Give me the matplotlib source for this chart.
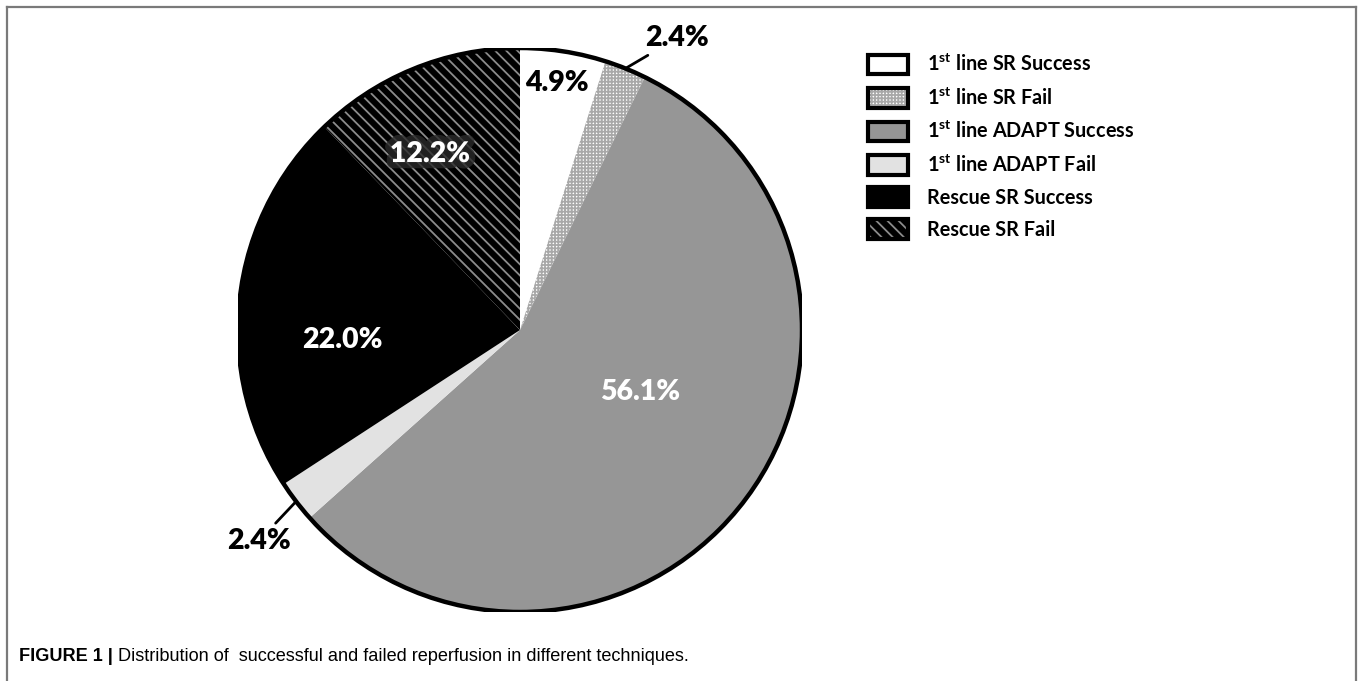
import matplotlib
matplotlib.use('Agg')
import matplotlib.pyplot as plt
import matplotlib.patheffects as pe
import numpy as np
from matplotlib.lines import Line2D
from matplotlib.patches import Patch

plt.rcParams['mathtext.fontset'] = 'custom'
plt.rcParams['mathtext.rm'] = 'Lato:bold'
plt.rcParams['mathtext.it'] = 'Lato:bold'
plt.rcParams['mathtext.bf'] = 'Lato:bold'
plt.rcParams['hatch.linewidth'] = 1.3

labels = [r'1$^{st}$ line SR Success', r'1$^{st}$ line SR Fail',
          r'1$^{st}$ line ADAPT Success', r'1$^{st}$ line ADAPT Fail',
          'Rescue SR Success', 'Rescue SR Fail']
values = [4.9, 2.4, 56.1, 2.4, 22.0, 12.2]
faces = ['#ffffff', '#ffffff', '#969696', '#e2e2e2', '#000000', '#000000']
hatch_cols = ['#ffffff', '#a8a8a8', '#969696', '#d6d6d6', '#000000', '#8c8c8c']
hatches = [None, '+++++', None, None, None, '\\\\\\']

# label spots (data coords, pie radius = 1)
lab_pos = [(0.131, 0.876), (0.557, 1.035), (0.426, -0.220),
           (-0.926, -0.748), (-0.631, -0.035), (-0.319, 0.624)]
lab_col = ['black', 'black', 'white', 'black', 'white', 'white']
leader = [False, True, False, True, False, False]

fig = plt.figure(figsize=(13.58, 6.81), dpi=100)
ax = fig.add_axes([238 / 1358, 69 / 681, 564 / 1358, 564 / 681])

wedges, _ = ax.pie(values, colors=faces, startangle=90, counterclock=False,
                   radius=1, wedgeprops=dict(linewidth=0))
for w, h, hc in zip(wedges, hatches, hatch_cols):
    w.set_edgecolor(hc)
    if h:
        w.set_hatch(h)

# thick outline of the pie
ax.add_patch(plt.Circle((0, 0), 1, fill=False, lw=3.2, color='black', zorder=5))

fs_lab = 20.5
for w, v, pos, c, ld in zip(wedges, values, lab_pos, lab_col, leader):
    txt = f'{v:.1f}%'
    if ld:
        mid = np.deg2rad((w.theta1 + w.theta2) / 2)
        ax.annotate(txt, xy=(np.cos(mid), np.sin(mid)), xytext=pos,
                    ha='center', va='center', fontsize=fs_lab, fontweight='heavy',
                    family='Lato', color=c,
                    arrowprops=dict(arrowstyle='-', lw=2, color='black',
                                    shrinkA=2, shrinkB=0))
    else:
        t = ax.text(pos[0], pos[1], txt, ha='center', va='center', fontsize=fs_lab,
                    fontweight='heavy', family='Lato', color=c, zorder=6)
        if v == 12.2:
            t.set_path_effects([pe.withStroke(linewidth=9, foreground='#2a2a2a', alpha=0.8)])

ax.set_xlim(-1, 1)
ax.set_ylim(-1, 1)
ax.set_aspect('equal')
ax.axis('off')

# legend: fill (with hatch) + thick black border overlaid
handles = []
for f, h, hc in zip(faces, hatches, hatch_cols):
    fill = Patch(facecolor=f, edgecolor=hc, hatch=h, lw=0)
    border = Patch(facecolor='none', edgecolor='black', lw=3)
    handles.append((fill, border))
fig.legend(handles, labels, loc='upper left', bbox_to_anchor=(868 / 1358, 1 - 53 / 681),
           frameon=False, borderaxespad=0, borderpad=0,
           prop=dict(family='Lato', weight='bold', size=14.3),
           handlelength=2.0, handleheight=1.16, handletextpad=0.95, labelspacing=0.57)

# outer frame
fc = '#7a7a7a'
fig.add_artist(Line2D([7 / 1358, 7 / 1358], [0, 1 - 7 / 681], color=fc, lw=1.6))
fig.add_artist(Line2D([7 / 1358, 1356 / 1358], [1 - 7 / 681, 1 - 7 / 681], color=fc, lw=1.6))
fig.add_artist(Line2D([1356 / 1358, 1356 / 1358], [0, 1 - 7 / 681], color=fc, lw=1.6))

# caption
cap1 = fig.text(19 / 1358, 1 - 661 / 681, 'FIGURE 1 | ', family='Liberation Sans',
                fontweight='bold', fontsize=13.1, va='baseline')
ax.annotate('Distribution of  successful and failed reperfusion in different techniques.',
            xy=(1, 0), xycoords=cap1, va='bottom', ha='left',
            family='Liberation Sans', fontsize=13.1, annotation_clip=False)

fig.savefig('out.png', dpi=100)
